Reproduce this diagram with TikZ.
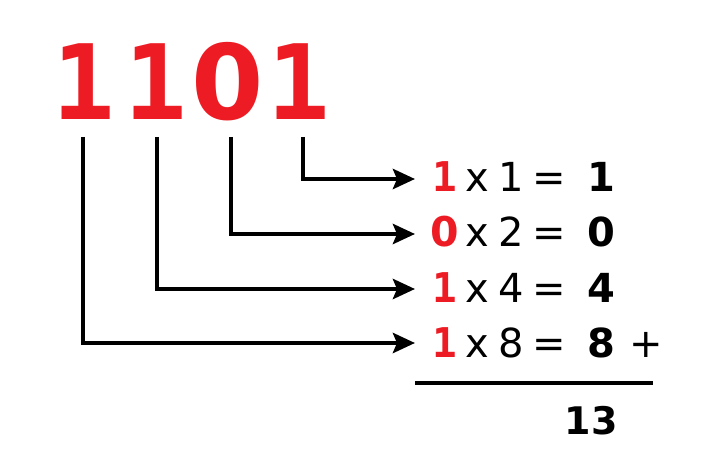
\documentclass[tikz,border=0pt]{standalone}
\usepackage{fontspec}
\setmainfont{DejaVu Sans}
\newfontfamily\monofnt{DejaVu Sans Mono}
\usetikzlibrary{arrows.meta}
\definecolor{binred}{HTML}{ED1C24}
\begin{document}
\begin{tikzpicture}[x=1pt,y=-1pt,
  bigdigit/.style={anchor=base,inner sep=0pt,text=binred,font=\monofnt\bfseries\fontsize{104}{104}\selectfont},
  bigzero/.style={anchor=base,inner sep=0pt,text=binred,font=\bfseries\fontsize{104}{104}\selectfont},
  reddigit/.style={anchor=base,inner sep=0pt,text=binred,font=\monofnt\bfseries\fontsize{41}{41}\selectfont},
  redzero/.style={anchor=base,inner sep=0pt,text=binred,font=\bfseries\fontsize{41}{41}\selectfont},
  plaintxt/.style={anchor=base,inner sep=0pt,font=\fontsize{40}{40}\selectfont},
  boldtxt/.style={anchor=base,inner sep=0pt,font=\bfseries\fontsize{40}{40}\selectfont},
  sumtxt/.style={anchor=base,inner sep=0pt,font=\bfseries\fontsize{38}{38}\selectfont},
  conn/.style={line width=4.5pt,-{Stealth[length=22pt,width=20pt,inset=4pt]}}
]
\useasboundingbox (0,0) rectangle (712,473);
% big number
\node[bigdigit] (d1) at (84,120) {1};
\node[bigdigit] (d2) at (156,120) {1};
\node[bigzero] (d3) at (228,120) {0};
\node[bigdigit] (d4) at (299,120) {1};
% line starts
\coordinate (t1) at (83,137);
\coordinate (t2) at (157,137);
\coordinate (t3) at (231,137);
\coordinate (t4) at (303,137);
% arrow ends
\coordinate (e1) at (415,179);
\coordinate (e2) at (415,234);
\coordinate (e3) at (415,289);
\coordinate (e4) at (415,343);
% rows
\node[reddigit] (b1) at (445,192) {1};
\node[redzero] (b2) at (445,247) {0};
\node[reddigit] (b3) at (445,302) {1};
\node[reddigit] (b4) at (445,357) {1};
\foreach \i/\m/\r/\y in {1/1/1/192, 2/2/0/247, 3/4/4/302, 4/8/8/357}{
  \node[plaintxt] (x\i) at (477,\y) {x};
  \node[plaintxt] (m\i) at (511,\y) {\m};
  \node[plaintxt] (q\i) at (549,\y) {=};
  \node[boldtxt] (r\i) at (601,\y) {\r};
}
\node[plaintxt] (plus) at (646,357) {+};
% connectors
\draw[conn] (t4) |- (e1);
\draw[conn] (t3) |- (e2);
\draw[conn] (t2) |- (e3);
\draw[conn] (t1) |- (e4);
% sum line
\coordinate (s1) at (415,383);
\coordinate (s2) at (653,383);
\draw[line width=4.5pt] (s1) -- (s2);
\node[sumtxt] (total) at (591,434) {13};
\end{tikzpicture}
\end{document}
